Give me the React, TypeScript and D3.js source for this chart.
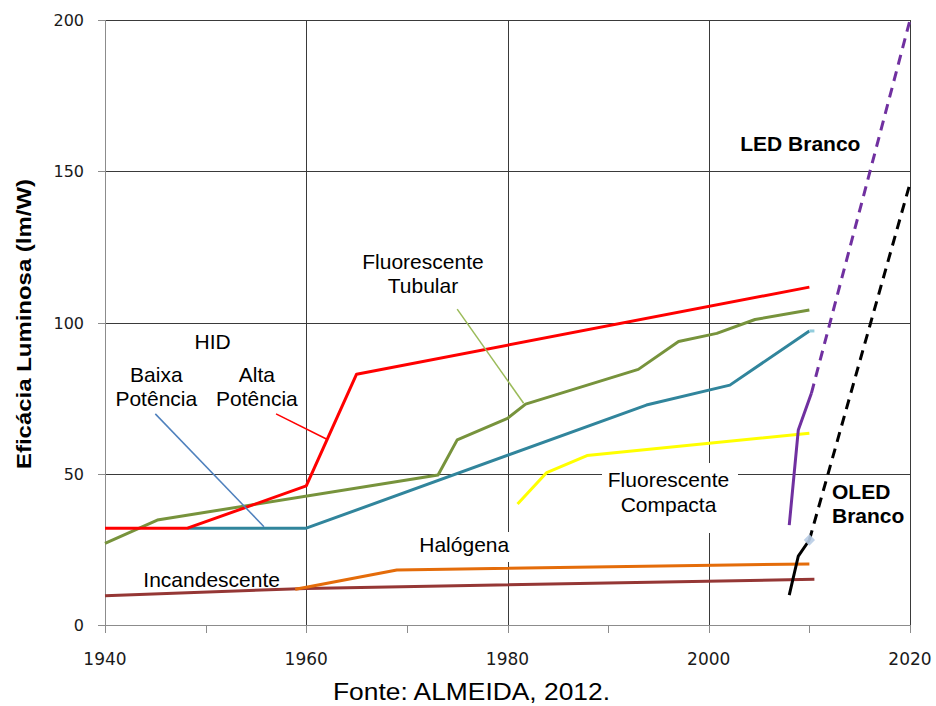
import React from "react";
import * as d3 from "d3";

// ---------- data ----------
const xTicks = [1940, 1960, 1980, 2000, 2020];
const xMinorTicks = [1950, 1970, 1990, 2010];
const yTicks = [0, 50, 100, 150, 200];

const incandescente: [number, number][] = [[1940, 9.7], [1960, 12.1], [2010.5, 15.1]];
const halogena: [number, number][] = [[1958.9, 11.8], [1960, 12.5], [1969, 18.2], [2010, 20.2]];
const hidBaixa: [number, number][] = [[1948.2, 32], [1960, 32], [1993.8, 72.7], [2002.1, 79.3], [2010, 97.2]];
const fluorTubular: [number, number][] = [
  [1940, 27], [1945.2, 34.7], [1973.1, 49.6], [1975, 61.2], [1980, 68.3], [1981.8, 73],
  [1993, 84.5], [1997, 93.7], [2000.8, 96.4], [2004.6, 101], [2010, 104.1],
];
const fluorCompacta: [number, number][] = [[1981, 40], [1983.9, 50.4], [1987.9, 56], [2010, 63.4]];
const hidAlta: [number, number][] = [[1940, 32], [1948.2, 32], [1960, 46], [1965, 82.9], [2010, 111.7]];
const ledSolid: [number, number][] = [[2008, 33], [2008.9, 64.5], [2010.2, 76.6]];
const ledDashed: [number, number][] = [[2010.2, 76.6], [2020, 200]];
const oledSolid: [number, number][] = [[2008, 9.9], [2008.9, 22.8], [2010, 28.1]];
const oledDashed: [number, number][] = [[2010, 28.1], [2020, 146]];

// leader lines [from, to] in data coords
const leaderTubular: [number, number][] = [[1975.0, 104.4], [1981.6, 73.3]];
const leaderBaixa: [number, number][] = [[1945.0, 69.8], [1955.8, 32.5]];
const leaderAlta: [number, number][] = [[1957.0, 69.8], [1962.0, 61.5]];

// ---------- layout ----------
const W = 936, H = 706;
const x = d3.scaleLinear().domain([1940, 2020]).range([105, 910]);
const y = d3.scaleLinear().domain([0, 200]).range([625, 20]);
const line = d3.line<[number, number]>().x(d => x(d[0])).y(d => y(d[1]));

const GRID = "#3a3a3a";
const AXIS = "#8c8c8c";
const FONT = "'Liberation Sans', Arial, sans-serif";
const TICKFONT = "'DejaVu Sans', Verdana, sans-serif";

type S = { data: [number, number][]; color: string; dash?: string; width?: number };
const series: S[] = [
  { data: incandescente, color: "#953735" },
  { data: halogena, color: "#e46c0a" },
  { data: hidBaixa, color: "#31859c" },
  { data: fluorTubular, color: "#77933c" },
  { data: fluorCompacta, color: "#ffff00" },
  { data: hidAlta, color: "#ff0000" },
  { data: ledSolid, color: "#7030a0" },
  { data: ledDashed, color: "#7030a0", dash: "10 7" },
  { data: oledSolid, color: "#000000" },
  { data: oledDashed, color: "#000000", dash: "10 7" },
];

export default function App() {
  const px = (v: number) => Math.round(v) + 0.5;
  return (
    <div style={{ position: "absolute", left: 0, top: 0 }}>
      <svg width={W} height={H} style={{ display: "block", background: "#fff" }}>
        {/* horizontal gridlines */}
        {yTicks.filter(t => t > 0).map(t => (
          <line key={"hg" + t} x1={105} x2={911} y1={px(y(t))} y2={px(y(t))} stroke={GRID} strokeWidth={1} />
        ))}
        {/* vertical gridlines */}
        {xTicks.filter(t => t > 1940).map(t => (
          <line key={"vg" + t} x1={px(x(t))} x2={px(x(t))} y1={20} y2={625} stroke={GRID} strokeWidth={1} />
        ))}
        {/* axes */}
        <line x1={98} x2={911} y1={px(y(0))} y2={px(y(0))} stroke={AXIS} />
        <line x1={px(x(1940))} x2={px(x(1940))} y1={20} y2={633} stroke={AXIS} />
        {yTicks.map(t => (
          <line key={"yt" + t} x1={98} x2={105} y1={px(y(t))} y2={px(y(t))} stroke={AXIS} />
        ))}
        {[...xTicks, ...xMinorTicks].map(t => (
          <line key={"xt" + t} x1={px(x(t))} x2={px(x(t))} y1={626} y2={633} stroke={AXIS} />
        ))}
        {/* tick labels */}
        {yTicks.map(t => (
          <text key={"yl" + t} x={84} y={y(t) + 6} textAnchor="end" fontFamily={TICKFONT} fontSize={16} fill="#1a1a1a">{t}</text>
        ))}
        {xTicks.map(t => (
          <text key={"xl" + t} x={x(t)} y={665} textAnchor="middle" fontFamily={TICKFONT} fontSize={17} fill="#1a1a1a">{t}</text>
        ))}
        {/* label background boxes */}
        <rect x={602} y={463} width={136} height={70} fill="#fff" />
        <rect x={408} y={532} width={112} height={30} fill="#fff" />

        {/* series */}
        {series.map((s, i) => (
          <path key={"s" + i} d={line(s.data) || ""} fill="none" stroke={s.color} strokeWidth={3}
            strokeDasharray={s.dash} strokeLinejoin="round" />
        ))}
        {/* small end markers */}
        <path d={line([[2010, 97.2], [2010.5, 97.2]]) || ""} stroke="#93cddd" strokeWidth={3} />
        <rect x={x(2010) - 4} y={y(28.1) - 4} width={8} height={8} fill="#b9cde5" opacity={0.9}
          transform={`rotate(45 ${x(2010)} ${y(28.1)})`} />

        {/* leader lines */}
        <path d={line(leaderTubular) || ""} stroke="#9bbb59" strokeWidth={1.5} />
        <path d={line(leaderBaixa) || ""} stroke="#4f81bd" strokeWidth={1.5} />
        <path d={line(leaderAlta) || ""} stroke="#ff0000" strokeWidth={1.5} />

        {/* labels */}
        <g fontFamily={FONT} fontSize={21} fill="#000" textAnchor="middle">
          <text x={x(1971.6)} y={y(117.7)}>Fluorescente</text>
          <text x={x(1971.6)} y={y(109.8)}>Tubular</text>
          <text x={x(1950.7)} y={y(91.2)}>HID</text>
          <text x={x(1945.1)} y={y(80.4)}>Baixa</text>
          <text x={x(1945.1)} y={y(72.4)}>Potência</text>
          <text x={x(1955.1)} y={y(80.4)}>Alta</text>
          <text x={x(1955.1)} y={y(72.4)}>Potência</text>
          <text x={x(1996.0)} y={y(45.7)}>Fluorescente</text>
          <text x={x(1996.0)} y={y(37.5)}>Compacta</text>
          <text x={x(1975.7)} y={y(24.1)}>Halógena</text>
          <text x={x(1950.6)} y={y(12.5)}>Incandescente</text>
        </g>
        <g fontFamily={FONT} fontSize={21} fontWeight="bold" fill="#000">
          <text x={x(2009.1)} y={y(156.8)} textAnchor="middle">LED Branco</text>
          <text x={x(2012.25)} y={y(41.7)}>OLED</text>
          <text x={x(2012.25)} y={y(33.8)}>Branco</text>
        </g>
        {/* axis title */}
        <text transform="translate(31,324) rotate(-90)" textAnchor="middle" fontFamily={FONT} fontSize={21}
          fontWeight="bold" fill="#000" textLength={290} lengthAdjust="spacingAndGlyphs">Eficácia Luminosa (lm/W)</text>
        {/* source */}
        <text x={471.5} y={700} textAnchor="middle" fontFamily={FONT} fontSize={24} fill="#000"
          textLength={277} lengthAdjust="spacingAndGlyphs">Fonte: ALMEIDA, 2012.</text>
      </svg>
    </div>
  );
}
